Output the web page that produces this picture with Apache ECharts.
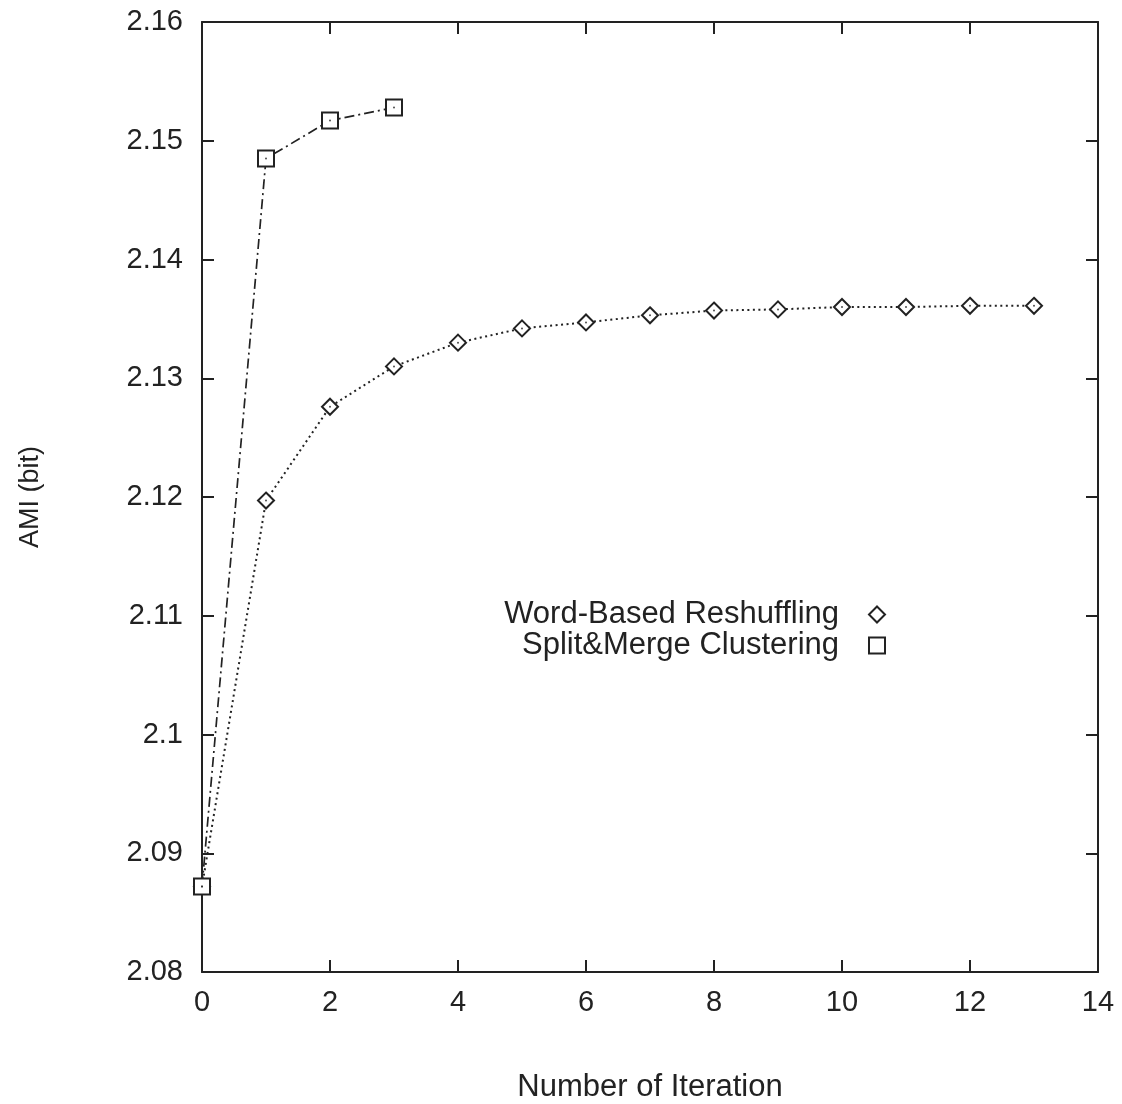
<!DOCTYPE html>
<html>
<head>
<meta charset="utf-8">
<script src="https://cdn.jsdelivr.net/npm/echarts@6/dist/echarts.min.js"></script>
<style>html,body{margin:0;padding:0;background:#fff}#c{width:1122px;height:1104px}</style>
</head>
<body>
<div id="c"></div>
<script>
const wbIter = [0,1,2,3,4,5,6,7,8,9,10,11,12,13];
const wbAMI  = [2.0872,2.1197,2.1276,2.1310,2.1330,2.1342,2.1347,2.1353,2.1357,2.1358,2.1360,2.1360,2.1361,2.1361];
const smIter = [0,1,2,3];
const smAMI  = [2.0872,2.1485,2.1517,2.1528];
const seriesNames = ['Word-Based Reshuffling','Split&Merge Clustering'];
const xTitle = 'Number of Iteration';
const yTitle = 'AMI (bit)';

const ink = '#222';
const font = '"Liberation Sans", Arial, Helvetica, sans-serif';
const chart = echarts.init(document.getElementById('c'), null, {renderer:'canvas'});
const pairs = (xs, ys) => xs.map((x,i)=>[x, ys[i]]);
function axisParts(){
  return {
    axisLine:{show:true,onZero:false,lineStyle:{color:ink,width:2}},
    axisTick:{show:true,inside:true,length:12,lineStyle:{color:ink,width:2}},
    splitLine:{show:false}
  };
}
chart.setOption({
  animation:false,
  backgroundColor:'#fff',
  grid:{left:202,top:22,width:896,height:950,containLabel:false,outerBoundsMode:'none'},
  legend:{
    right:231, top:594, orient:'vertical', align:'right', itemGap:0,
    itemWidth:16, itemHeight:16,
    textStyle:{fontFamily:font,fontSize:31,color:ink,padding:[0,25,0,0]},
    data:[
      {name:seriesNames[0],icon:'emptyDiamond',itemStyle:{color:ink,borderColor:ink,borderWidth:2}},
      {name:seriesNames[1],icon:'emptyRect',itemStyle:{color:ink,borderColor:ink,borderWidth:1.6}}
    ]
  },
  xAxis:[
    Object.assign({type:'value',min:0,max:14,interval:2,position:'bottom',
      name:xTitle,nameLocation:'middle',nameGap:100,
      nameTextStyle:{fontFamily:font,fontSize:31,color:ink},
      axisLabel:{fontFamily:font,fontSize:29,color:ink,margin:16}},axisParts()),
    Object.assign({type:'value',min:0,max:14,interval:2,position:'top',
      axisLabel:{show:false}},axisParts())
  ],
  yAxis:[
    Object.assign({type:'value',min:2.08,max:2.16,interval:0.01,position:'left',
      name:yTitle,nameLocation:'middle',nameGap:158,
      nameTextStyle:{fontFamily:font,fontSize:27,color:ink},
      axisLabel:{fontFamily:font,fontSize:29,color:ink,margin:19,
        formatter:v=>String(+v.toFixed(2))}},axisParts()),
    Object.assign({type:'value',min:2.08,max:2.16,interval:0.01,position:'right',
      axisLabel:{show:false}},axisParts())
  ],
  series:[
    {name:seriesNames[0],type:'line',data:pairs(wbIter,wbAMI),
      symbol:'emptyDiamond',symbolSize:16,showAllSymbol:true,
      itemStyle:{color:ink,borderWidth:2.2},
      lineStyle:{color:ink,width:2,type:[2,3.5]},z:3},
    {name:seriesNames[1],type:'line',data:pairs(smIter,smAMI),
      symbol:'emptyRect',symbolSize:16,showAllSymbol:true,
      itemStyle:{color:ink,borderWidth:1.7},
      lineStyle:{color:ink,width:1.7,type:[10,4,2,4]},z:3},
    {name:'wbDot',type:'scatter',data:pairs(wbIter,wbAMI),symbol:'circle',symbolSize:2,
      itemStyle:{color:ink},z:5,silent:true},
    {name:'smDot',type:'scatter',data:pairs(smIter,smAMI),symbol:'circle',symbolSize:2,
      itemStyle:{color:ink},z:5,silent:true}
  ]
});
</script>
</body>
</html>
